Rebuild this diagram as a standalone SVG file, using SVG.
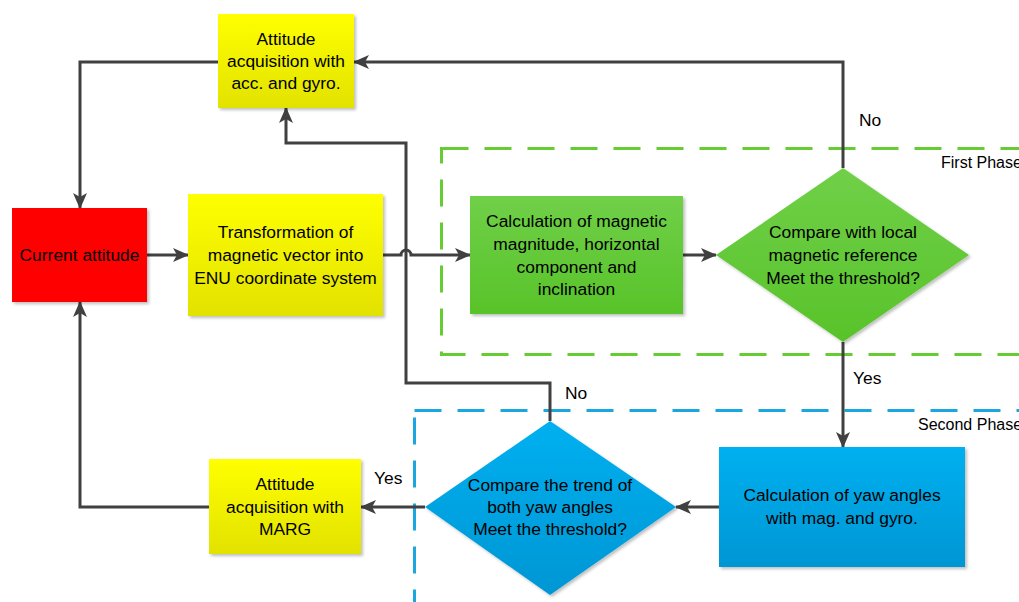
<svg xmlns="http://www.w3.org/2000/svg" width="1019" height="602" viewBox="0 0 1019 602">
<defs>
<linearGradient id="gy" x1="0" y1="0" x2="0" y2="1"><stop offset="0" stop-color="#ffff00"/><stop offset="1" stop-color="#e2e200"/></linearGradient>
<linearGradient id="gg" x1="0" y1="0" x2="0" y2="1"><stop offset="0" stop-color="#70d048"/><stop offset="1" stop-color="#58c32a"/></linearGradient>
<linearGradient id="gb" x1="0" y1="0" x2="0" y2="1"><stop offset="0" stop-color="#00b0f0"/><stop offset="1" stop-color="#0096d4"/></linearGradient>
<filter id="sh" x="-10%" y="-10%" width="130%" height="130%"><feDropShadow dx="2" dy="2" stdDeviation="1.5" flood-color="#000" flood-opacity="0.25"/></filter>
<marker id="ar" markerWidth="16" markerHeight="14" refX="15" refY="7" orient="auto" markerUnits="userSpaceOnUse"><path d="M0,0 L16,7 L0,14 L4,7 Z" fill="#404040"/></marker>
</defs>
<style>
text{font-family:"Liberation Sans",Arial,sans-serif;font-size:17.4px;fill:#000;text-anchor:middle}
.c{fill:none;stroke:#404040;stroke-width:3}
.lbl{text-anchor:start}
.ph{text-anchor:start;font-size:16px}
</style>
<rect width="1019" height="602" fill="#fff"/>
<g id="phases">
<rect x="441.5" y="148.5" width="640" height="206" fill="none" stroke="#66cc33" stroke-width="3" stroke-dasharray="27 16"/>
<text class="ph" x="941" y="168">First Phase</text>
<rect x="414.5" y="410.5" width="660" height="260" fill="none" stroke="#1aa7e0" stroke-width="3" stroke-dasharray="27 16"/>
<text class="ph" x="918" y="430">Second Phase</text>
</g>
<g id="connectors">
<path class="c" d="M147,255 H188" marker-end="url(#ar)"/>
<path class="c" d="M383,255 H401 A5,5 0 0 1 411,255 H470" marker-end="url(#ar)"/>
<path class="c" d="M683,255 H716" marker-end="url(#ar)"/>
<path class="c" d="M843,168 V62 H354" marker-end="url(#ar)"/>
<path class="c" d="M843,342 V447" marker-end="url(#ar)"/>
<path class="c" d="M719,507 H676" marker-end="url(#ar)"/>
<path class="c" d="M425,507 H361" marker-end="url(#ar)"/>
<path class="c" d="M209,507 H80 V302" marker-end="url(#ar)"/>
<path class="c" d="M218,62 H80 V208" marker-end="url(#ar)"/>
<path class="c" d="M550,421 V383 H406 V143 H286 V108" marker-end="url(#ar)"/>
<text class="lbl" x="859" y="126">No</text>
<text class="lbl" x="853" y="384">Yes</text>
<text class="lbl" x="565" y="399">No</text>
<text class="lbl" x="374" y="484">Yes</text>
</g>
<g id="n_att_acc">
<rect x="218" y="14" width="136" height="94" fill="url(#gy)" filter="url(#sh)"/>
<text x="286" y="45">Attitude</text><text x="286" y="67">acquisition with</text><text x="286" y="89">acc. and gyro.</text>
</g>
<g id="n_current">
<rect x="12" y="208" width="135" height="94" fill="#ff0000" filter="url(#sh)"/>
<text x="79.5" y="261">Current attitude</text>
</g>
<g id="n_transform">
<rect x="188" y="194" width="195" height="122" fill="url(#gy)" filter="url(#sh)"/>
<text x="285.5" y="238">Transformation of</text><text x="285.5" y="261">magnetic vector into</text><text x="285.5" y="284">ENU coordinate system</text>
</g>
<g id="n_calcmag">
<rect x="470" y="196" width="213" height="118" fill="url(#gg)" filter="url(#sh)"/>
<text x="576.5" y="227">Calculation of magnetic</text><text x="576.5" y="250">magnitude, horizontal</text><text x="576.5" y="273">component and</text><text x="576.5" y="295">inclination</text>
</g>
<g id="n_cmp1">
<path d="M843,168 L969,255 L843,342 L716,255 Z" fill="url(#gg)" filter="url(#sh)"/>
<text x="843" y="238">Compare with local</text><text x="843" y="261">magnetic reference</text><text x="843" y="284">Meet the threshold?</text>
</g>
<g id="n_yaw">
<rect x="719" y="447" width="246" height="120" fill="url(#gb)" filter="url(#sh)"/>
<text x="842" y="501">Calculation of yaw angles</text><text x="842" y="524">with mag. and gyro.</text>
</g>
<g id="n_cmp2">
<path d="M550,421 L676,507 L550,595 L425,507 Z" fill="url(#gb)" filter="url(#sh)"/>
<text x="550" y="491">Compare the trend of</text><text x="550" y="513">both yaw angles</text><text x="550" y="535">Meet the threshold?</text>
</g>
<g id="n_marg">
<rect x="209" y="459" width="152" height="95" fill="url(#gy)" filter="url(#sh)"/>
<text x="285" y="490">Attitude</text><text x="285" y="513">acquisition with</text><text x="285" y="535">MARG</text>
</g>
</svg>
